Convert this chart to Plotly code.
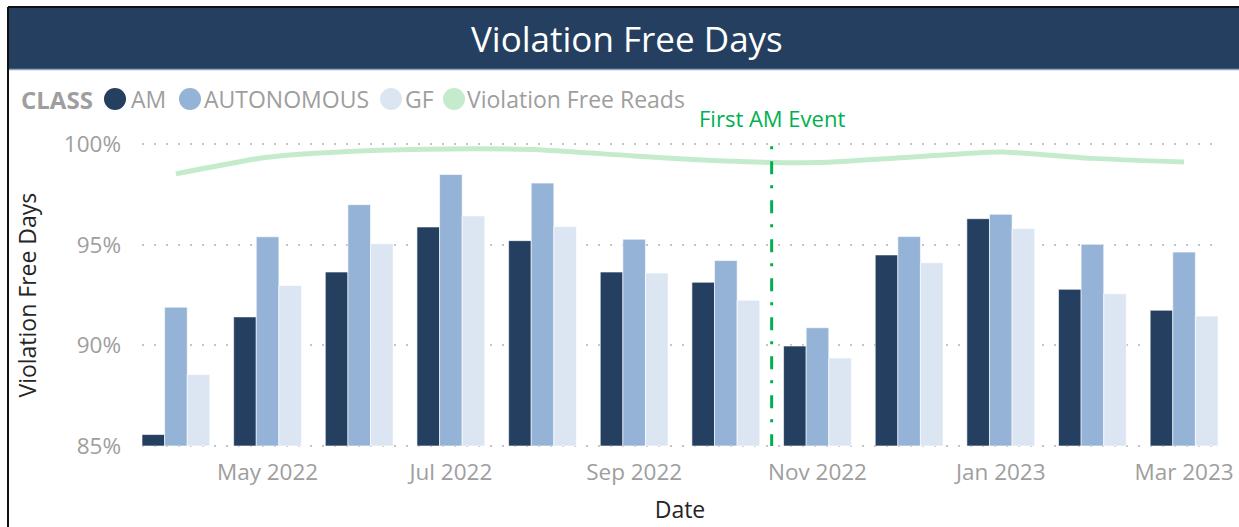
import plotly.graph_objects as go

months = ["Apr 2022", "May 2022", "Jun 2022", "Jul 2022", "Aug 2022", "Sep 2022",
          "Oct 2022", "Nov 2022", "Dec 2022", "Jan 2023", "Feb 2023", "Mar 2023"]
am = [85.57, 91.42, 93.65, 95.89, 95.21, 93.65, 93.14, 89.97, 94.50, 96.30, 92.79, 91.75]
autonomous = [91.90, 95.40, 97.00, 98.50, 98.07, 95.28, 94.22, 90.88, 95.41, 96.52, 95.03, 94.64]
gf = [88.55, 92.98, 95.06, 96.44, 95.91, 93.60, 92.25, 89.37, 94.11, 95.81, 92.57, 91.46]
free_reads = [98.53, 99.36, 99.67, 99.77, 99.72, 99.42, 99.17, 99.09, 99.36, 99.62, 99.30, 99.12]
tick_months = ["May 2022", "Jul 2022", "Sep 2022", "Nov 2022", "Jan 2023", "Mar 2023"]
y_ticks = [85, 90, 95, 100]
event_label = "First AM Event"
legend_names = ["AM", "AUTONOMOUS", "GF", "Violation Free Reads"]

C_AM = "#243F60"
C_AUTO = "#95B3D7"
C_GF = "#DCE6F2"
C_LINE = "#C4ECCC"
C_EVENT = "#00B050"
GRAY = "#9E9E9E"
DARK = "#252525"
FONT = "Open Sans"

W, H = 1239, 527

def px_x(p):
    return p / W

def px_y(p):
    return (H - p) / H

series_colors = [C_AM, C_AUTO, C_GF, C_LINE]

fig = go.Figure()

for name, vals, col in zip(legend_names[:3], [am, autonomous, gf], series_colors[:3]):
    fig.add_trace(go.Bar(x=months, y=[v - 85 for v in vals], base=85, name=name,
                         marker=dict(color=col, line=dict(color="rgba(255,255,255,0.6)", width=1)),
                         showlegend=False))

fig.add_trace(go.Scatter(x=months, y=free_reads, mode="lines", name=legend_names[3],
                         line=dict(color=C_LINE, width=5, shape="spline", smoothing=0.6),
                         showlegend=False))

# legend (CLASS title + circle markers + labels)
legend_y = px_y(99)
fig.add_annotation(x=px_x(19), y=legend_y, xref="paper", yref="paper", text="<b>CLASS</b>",
                   showarrow=False, xanchor="left", yanchor="middle",
                   font=dict(family=FONT, size=24, color=GRAY))
circle_x = [115, 190, 391, 454]
text_x = [129, 202, 403, 465]
for name, col, cx, tx in zip(legend_names, series_colors, circle_x, text_x):
    fig.add_shape(type="circle", xref="paper", yref="paper", xsizemode="pixel", ysizemode="pixel",
                  xanchor=px_x(cx), yanchor=legend_y, x0=-11, x1=11, y0=-11, y1=11,
                  fillcolor=col, line=dict(width=0))
    fig.add_annotation(x=px_x(tx), y=legend_y, xref="paper", yref="paper", text=name,
                       showarrow=False, xanchor="left", yanchor="middle",
                       font=dict(family=FONT, size=23, color=GRAY))

# event line
fig.add_shape(type="line", xref="x", yref="y", x0=6.5, x1=6.5, y0=99.9, y1=85,
              line=dict(color=C_EVENT, width=3, dash="3px,12px,13px,11px"))
fig.add_annotation(x=6.5, xref="x", y=px_y(118), yref="paper", text=event_label,
                   showarrow=False, font=dict(family=FONT, size=22, color=C_EVENT),
                   xanchor="center", yanchor="middle")

# title band and borders
fig.add_shape(type="rect", xref="paper", yref="paper", x0=px_x(9), x1=1, y0=px_y(69), y1=px_y(8),
              fillcolor=C_AM, line=dict(width=0), layer="below")
fig.add_shape(type="line", xref="paper", yref="paper", x0=px_x(9), x1=1, y0=px_y(69.5), y1=px_y(69.5),
              line=dict(color="#8FA5BF", width=1.5))
fig.add_shape(type="line", xref="paper", yref="paper", x0=px_x(8), x1=px_x(8), y0=0, y1=px_y(7),
              line=dict(color="#111111", width=2))
fig.add_shape(type="line", xref="paper", yref="paper", x0=px_x(8), x1=1, y0=px_y(7), y1=px_y(7),
              line=dict(color="#111111", width=2))
fig.add_annotation(x=px_x(627), y=px_y(38), xref="paper", yref="paper", text="Violation Free Days",
                   showarrow=False, font=dict(family=FONT, size=35, color="white"),
                   xanchor="center", yanchor="middle")

# y scale: 85% at 446px, 100% at 144.3px; pad range slightly so edge gridlines show
ppu = (446 - 144.3) / 15.0
y_lo, y_hi = 84.8, 100.2
fig.update_layout(
    width=W, height=H,
    margin=dict(l=0, r=0, t=0, b=0),
    paper_bgcolor="white", plot_bgcolor="white",
    barmode="group", bargap=0.26, bargroupgap=0,
    showlegend=False,
    font=dict(family=FONT, color=GRAY, size=22),
    xaxis=dict(domain=[px_x(142), px_x(1218)], range=[-0.37, 11.37], type="category",
               categoryorder="array", categoryarray=months,
               tickmode="array", tickvals=tick_months, ticktext=tick_months,
               showgrid=False, zeroline=False, showline=False, ticks="",
               ticklabelstandoff=6,
               tickfont=dict(family=FONT, size=22.5, color=GRAY),
               title=dict(text="Date", font=dict(family=FONT, size=23, color=DARK), standoff=16),
               automargin=False),
    yaxis=dict(domain=[px_y(446 + (85 - y_lo) * ppu), px_y(144.3 - (y_hi - 100) * ppu)],
               range=[y_lo, y_hi], tickmode="array",
               tickvals=y_ticks, ticktext=[f"{v}%" for v in y_ticks],
               showgrid=True, gridcolor="#C4C4C4", gridwidth=1.5, griddash="2px,10px",
               zeroline=False, showline=False, ticks="", ticklabelstandoff=20,
               tickfont=dict(family=FONT, size=22.5, color=GRAY),
               title=dict(text="Violation Free Days", font=dict(family=FONT, size=23, color=DARK), standoff=20),
               automargin=False),
)

fig.write_html("out.html", config={"displayModeBar": False},
               post_script="document.body.style.margin='0px';")
